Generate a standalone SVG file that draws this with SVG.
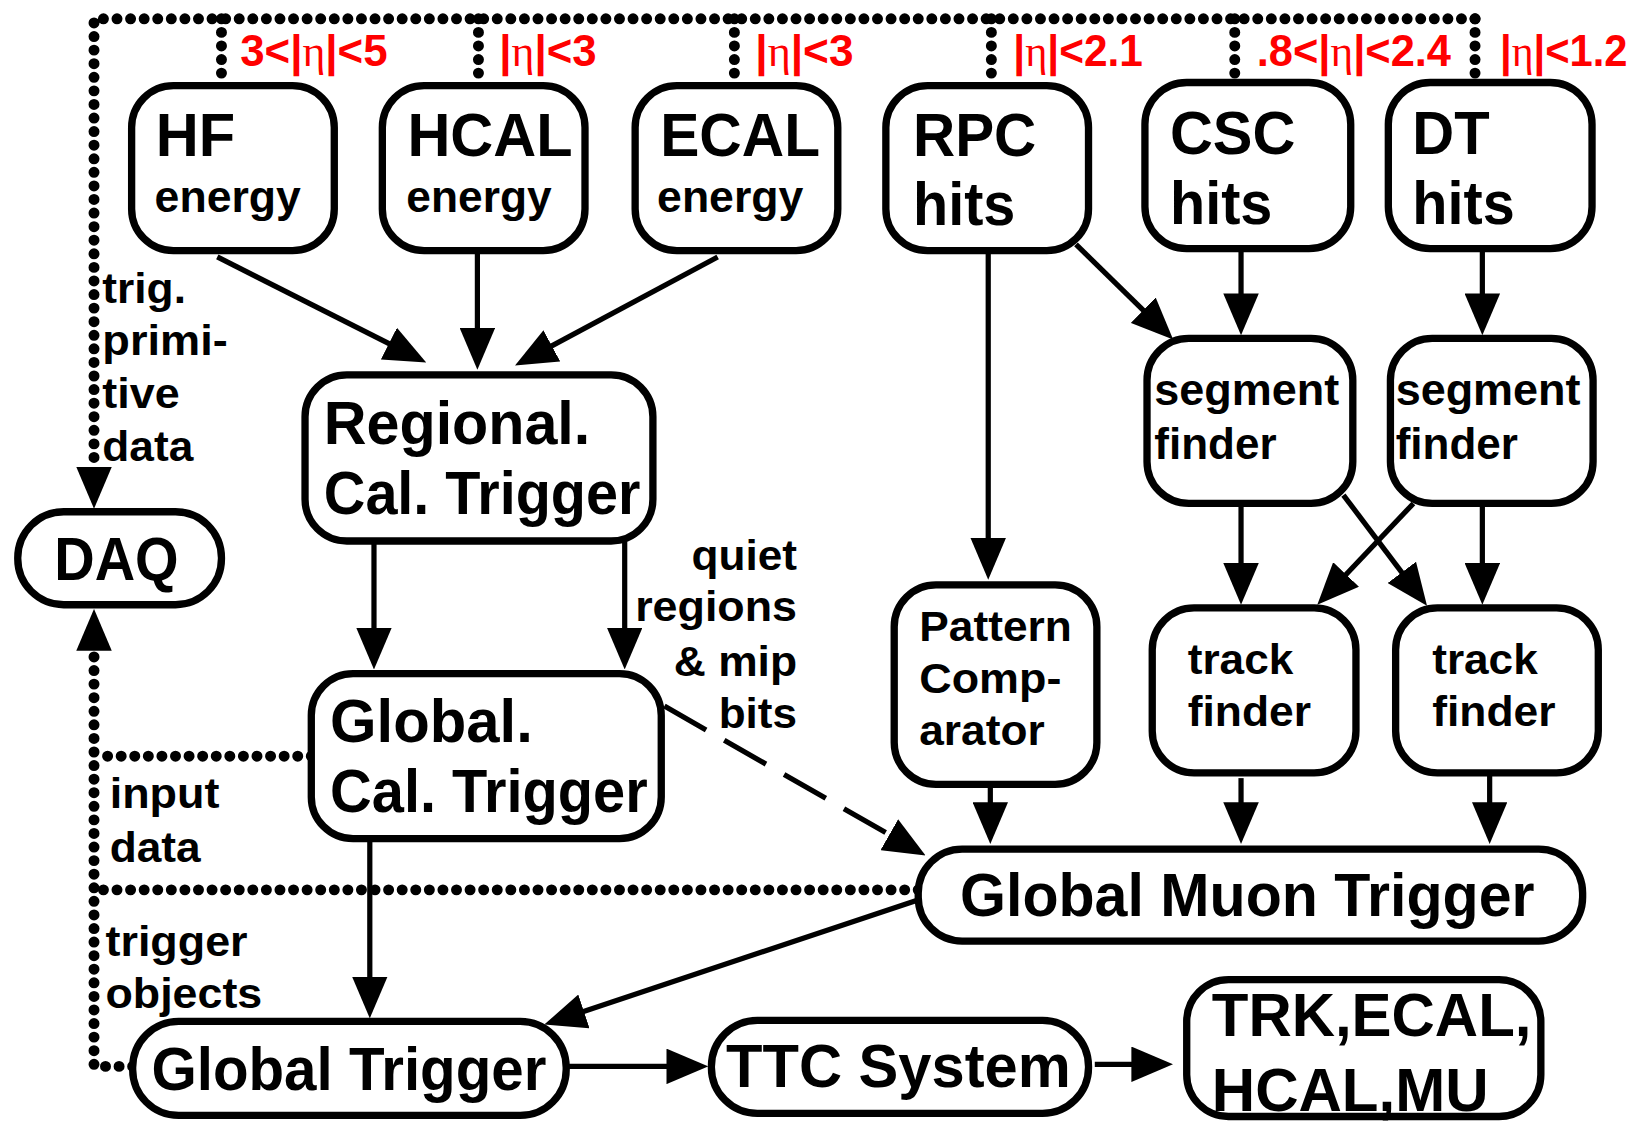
<svg xmlns="http://www.w3.org/2000/svg" width="1638" height="1128" viewBox="0 0 1638 1128">
<style>
.box{fill:#fff;stroke:#000;stroke-width:7}
.t{font-family:"Liberation Sans",Arial,sans-serif;font-weight:bold;fill:#000}
.big{font-size:58px}
.mid{font-size:42px}
.sm{font-size:40px}
.red{font-size:43px;fill:#f00}
.eta{font-family:"Liberation Serif","Times New Roman",serif;font-weight:normal}
.ln{fill:none;stroke:#000;stroke-width:5;marker-end:url(#ah)}
.dash{stroke-dasharray:46 20}
.dot{fill:none;stroke:#000;stroke-width:10.5;stroke-linecap:round;stroke-dasharray:0 13}
.dotarr{marker-end:url(#ahb)}
</style>
<defs>
<marker id="ah" markerUnits="userSpaceOnUse" markerWidth="40" markerHeight="34" viewBox="0 0 40 34" refX="32" refY="17" orient="auto"><path d="M0,0 L40,17 L0,34 z" fill="#000"/></marker>
<marker id="ahb" markerUnits="userSpaceOnUse" markerWidth="40" markerHeight="34" viewBox="0 0 40 34" refX="0" refY="17" orient="auto"><path d="M0,0 L40,17 L0,34 z" fill="#000"/></marker>
</defs>
<rect width="1638" height="1128" fill="#fff"/>
<g transform="scale(1.044643 1.044444)">
<g id="connectors">
<path class="dot dotarr" d="M1412,18 L90,18 L90,447"/>
<path class="dot" d="M212,18 V74 M458,18 V74 M703,18 V74 M949,18 V74 M1182,18 V74 M1412,18 V74"/>
<path class="dot dotarr" d="M127,1021 L90,1021 L90,623"/>
<path class="dot" d="M298,724 L90,724"/>
<path class="dot" d="M879,852 L90,852"/>
<path class="ln" d="M208,246 L400.86,343.39"/>
<path class="ln" d="M457,243 L457,346"/>
<path class="ln" d="M687,246 L500.05,346.22"/>
<path class="ln" d="M358,518 L358,633"/>
<path class="ln" d="M598,518 L598,633"/>
<path class="ln dash" d="M636,676 L879.06,815.03"/>
<path class="ln" d="M354,803 L354,967"/>
<path class="ln" d="M878,862 L528.59,978.47"/>
<path class="ln" d="M542,1021 L670,1021"/>
<path class="ln" d="M1048,1019 L1115,1019"/>
<path class="ln" d="M946,243 L946,547"/>
<path class="ln" d="M1030,234 L1117.28,319.4"/>
<path class="ln" d="M1188,238 L1188,313"/>
<path class="ln" d="M1419,238 L1419,313"/>
<path class="ln" d="M1188,482 L1188,571"/>
<path class="ln" d="M1286,474 L1361.18,573.61"/>
<path class="ln" d="M1353,482 L1266.5,573.2"/>
<path class="ln" d="M1419,482 L1419,571"/>
<path class="ln" d="M948,751 L948,800"/>
<path class="ln" d="M1188,745 L1188,800"/>
<path class="ln" d="M1426,740 L1426,800"/>
</g>
<g id="labels">
<text class="t red" x="230" y="63" textLength="141" lengthAdjust="spacingAndGlyphs">3&lt;|<tspan class="eta">η</tspan>|&lt;5</text>
<text class="t red" x="478" y="63" textLength="93" lengthAdjust="spacingAndGlyphs">|<tspan class="eta">η</tspan>|&lt;3</text>
<text class="t red" x="723" y="63" textLength="94" lengthAdjust="spacingAndGlyphs">|<tspan class="eta">η</tspan>|&lt;3</text>
<text class="t red" x="970" y="63" textLength="124" lengthAdjust="spacingAndGlyphs">|<tspan class="eta">η</tspan>|&lt;2.1</text>
<text class="t red" x="1203" y="63" textLength="186" lengthAdjust="spacingAndGlyphs">.8&lt;|<tspan class="eta">η</tspan>|&lt;2.4</text>
<text class="t red" x="1436" y="63" textLength="122" lengthAdjust="spacingAndGlyphs">|<tspan class="eta">η</tspan>|&lt;1.2</text>
<text class="t sm" x="98" y="290" textLength="80" lengthAdjust="spacingAndGlyphs">trig.</text>
<text class="t sm" x="98" y="340" textLength="120" lengthAdjust="spacingAndGlyphs">primi-</text>
<text class="t sm" x="98" y="391" textLength="74" lengthAdjust="spacingAndGlyphs">tive</text>
<text class="t sm" x="98" y="441" textLength="87" lengthAdjust="spacingAndGlyphs">data</text>
<text class="t sm" x="763" y="546" text-anchor="end" textLength="101" lengthAdjust="spacingAndGlyphs">quiet</text>
<text class="t sm" x="763" y="595" text-anchor="end" textLength="155" lengthAdjust="spacingAndGlyphs">regions</text>
<text class="t sm" x="763" y="647" text-anchor="end" textLength="118" lengthAdjust="spacingAndGlyphs">&amp; mip</text>
<text class="t sm" x="763" y="697" text-anchor="end" textLength="75" lengthAdjust="spacingAndGlyphs">bits</text>
<text class="t sm" x="105" y="774" textLength="105" lengthAdjust="spacingAndGlyphs">input</text>
<text class="t sm" x="105" y="825" textLength="87" lengthAdjust="spacingAndGlyphs">data</text>
<text class="t sm" x="101" y="915" textLength="136" lengthAdjust="spacingAndGlyphs">trigger</text>
<text class="t sm" x="101" y="965" textLength="150" lengthAdjust="spacingAndGlyphs">objects</text>
</g>
<g id="hf">
<rect class="box" x="126" y="82" width="194" height="158" rx="40"/>
<text class="t big" x="149" y="149" textLength="76" lengthAdjust="spacingAndGlyphs">HF</text>
<text class="t mid" x="148" y="203" textLength="140" lengthAdjust="spacingAndGlyphs">energy</text>
</g>
<g id="hcal">
<rect class="box" x="366" y="82" width="194" height="158" rx="40"/>
<text class="t big" x="390" y="149" textLength="158" lengthAdjust="spacingAndGlyphs">HCAL</text>
<text class="t mid" x="389" y="203" textLength="139" lengthAdjust="spacingAndGlyphs">energy</text>
</g>
<g id="ecal">
<rect class="box" x="608" y="82" width="194" height="158" rx="40"/>
<text class="t big" x="632" y="149" textLength="153" lengthAdjust="spacingAndGlyphs">ECAL</text>
<text class="t mid" x="629" y="203" textLength="140" lengthAdjust="spacingAndGlyphs">energy</text>
</g>
<g id="rpc">
<rect class="box" x="848" y="82" width="194" height="158" rx="40"/>
<text class="t big" x="874" y="149" textLength="118" lengthAdjust="spacingAndGlyphs">RPC</text>
<text class="t big" x="874" y="215" textLength="98" lengthAdjust="spacingAndGlyphs">hits</text>
</g>
<g id="csc">
<rect class="box" x="1096" y="79" width="197" height="159" rx="40"/>
<text class="t big" x="1120" y="147" textLength="120" lengthAdjust="spacingAndGlyphs">CSC</text>
<text class="t big" x="1120" y="214" textLength="98" lengthAdjust="spacingAndGlyphs">hits</text>
</g>
<g id="dt">
<rect class="box" x="1329" y="79" width="195" height="159" rx="40"/>
<text class="t big" x="1352" y="147" textLength="74" lengthAdjust="spacingAndGlyphs">DT</text>
<text class="t big" x="1352" y="214" textLength="98" lengthAdjust="spacingAndGlyphs">hits</text>
</g>
<g id="rct">
<rect class="box" x="292" y="359" width="333" height="159" rx="40"/>
<text class="t big" x="310" y="425" textLength="255" lengthAdjust="spacingAndGlyphs">Regional.</text>
<text class="t big" x="310" y="492" textLength="303" lengthAdjust="spacingAndGlyphs">Cal. Trigger</text>
</g>
<g id="daq">
<rect class="box" x="17" y="490" width="195" height="89" rx="44"/>
<text class="t big" x="52" y="555" textLength="119" lengthAdjust="spacingAndGlyphs">DAQ</text>
</g>
<g id="seg1">
<rect class="box" x="1098" y="324" width="197" height="158" rx="40"/>
<text class="t mid" x="1105" y="388" textLength="177" lengthAdjust="spacingAndGlyphs">segment</text>
<text class="t mid" x="1105" y="439" textLength="117" lengthAdjust="spacingAndGlyphs">finder</text>
</g>
<g id="seg2">
<rect class="box" x="1331" y="324" width="194" height="158" rx="40"/>
<text class="t mid" x="1336" y="388" textLength="177" lengthAdjust="spacingAndGlyphs">segment</text>
<text class="t mid" x="1336" y="439" textLength="117" lengthAdjust="spacingAndGlyphs">finder</text>
</g>
<g id="gct">
<rect class="box" x="298" y="645" width="335" height="158" rx="40"/>
<text class="t big" x="316" y="710" textLength="194" lengthAdjust="spacingAndGlyphs">Global.</text>
<text class="t big" x="316" y="777" textLength="304" lengthAdjust="spacingAndGlyphs">Cal. Trigger</text>
</g>
<g id="pattern">
<rect class="box" x="856" y="560" width="194" height="191" rx="40"/>
<text class="t sm" x="880" y="614" textLength="146" lengthAdjust="spacingAndGlyphs">Pattern</text>
<text class="t sm" x="880" y="664" textLength="136" lengthAdjust="spacingAndGlyphs">Comp-</text>
<text class="t sm" x="880" y="713" textLength="120" lengthAdjust="spacingAndGlyphs">arator</text>
</g>
<g id="tf1">
<rect class="box" x="1103" y="582" width="195" height="158" rx="40"/>
<text class="t sm" x="1137" y="645" textLength="101" lengthAdjust="spacingAndGlyphs">track</text>
<text class="t sm" x="1137" y="695" textLength="118" lengthAdjust="spacingAndGlyphs">finder</text>
</g>
<g id="tf2">
<rect class="box" x="1336" y="582" width="194" height="158" rx="40"/>
<text class="t sm" x="1371" y="645" textLength="101" lengthAdjust="spacingAndGlyphs">track</text>
<text class="t sm" x="1371" y="695" textLength="118" lengthAdjust="spacingAndGlyphs">finder</text>
</g>
<g id="gmt">
<rect class="box" x="879" y="813" width="636" height="88" rx="42"/>
<text class="t big" x="919" y="877" textLength="550" lengthAdjust="spacingAndGlyphs">Global Muon Trigger</text>
</g>
<g id="gt">
<rect class="box" x="127" y="978" width="415" height="90" rx="44"/>
<text class="t big" x="145" y="1044" textLength="378" lengthAdjust="spacingAndGlyphs">Global Trigger</text>
</g>
<g id="ttc">
<rect class="box" x="681" y="977" width="361" height="89" rx="44"/>
<text class="t big" x="695" y="1041" textLength="330" lengthAdjust="spacingAndGlyphs">TTC System</text>
</g>
<g id="trk">
<rect class="box" x="1136" y="938" width="339" height="131" rx="40"/>
<text class="t big" x="1160" y="992" textLength="306" lengthAdjust="spacingAndGlyphs">TRK,ECAL,</text>
<text class="t big" x="1160" y="1064" textLength="265" lengthAdjust="spacingAndGlyphs">HCAL,MU</text>
</g>
</g>
</svg>
